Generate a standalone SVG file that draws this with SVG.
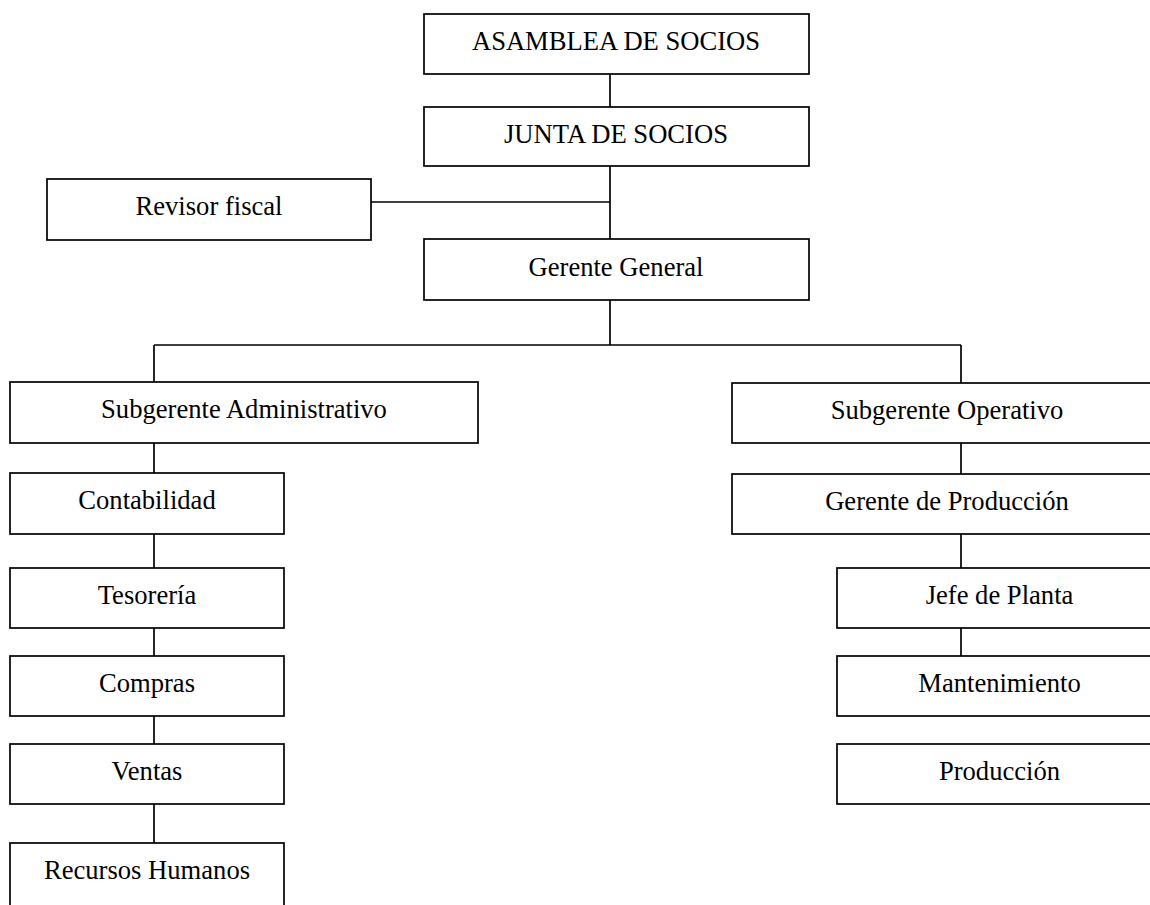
<svg xmlns="http://www.w3.org/2000/svg" width="1150" height="905" viewBox="0 0 1150 905">
<style>
rect.box{fill:#fff;stroke:#000;stroke-width:1.7}
text{font-family:"Liberation Serif","Times New Roman",serif;font-size:26.6px;fill:#000;text-anchor:middle}
#connectors path{fill:none;stroke:#000;stroke-width:1.7}
</style>
<rect width="1150" height="905" fill="#fff"/>
<g id="connectors">
<path d="M610 74V107"/>
<path d="M610 166V239"/>
<path d="M371 202H610"/>
<path d="M610 300V345"/>
<path d="M154 345H961"/>
<path d="M154 345V382"/>
<path d="M961 345V383"/>
<path d="M154 443V473"/>
<path d="M154 534V568"/>
<path d="M154 628V656"/>
<path d="M154 716V744"/>
<path d="M154 804V843"/>
<path d="M961 443V474"/>
<path d="M961 534V568"/>
<path d="M961 628V656"/>
</g>
<g id="asamblea"><rect class="box" x="424" y="14" width="385" height="60"/><text x="616" y="50">ASAMBLEA DE SOCIOS</text></g>
<g id="junta"><rect class="box" x="424" y="107" width="385" height="59"/><text x="616" y="143">JUNTA DE SOCIOS</text></g>
<g id="revisor"><rect class="box" x="47" y="179" width="324" height="61"/><text x="209" y="215">Revisor fiscal</text></g>
<g id="gerente"><rect class="box" x="424" y="239" width="385" height="61"/><text x="616" y="276">Gerente General</text></g>
<g id="sub-admin"><rect class="box" x="10" y="382" width="468" height="61"/><text x="244" y="418">Subgerente Administrativo</text></g>
<g id="sub-oper"><rect class="box" x="732" y="383" width="430" height="60"/><text x="947" y="419">Subgerente Operativo</text></g>
<g id="contabilidad"><rect class="box" x="10" y="473" width="274" height="61"/><text x="147" y="509">Contabilidad</text></g>
<g id="tesoreria"><rect class="box" x="10" y="568" width="274" height="60"/><text x="147" y="604">Tesorería</text></g>
<g id="compras"><rect class="box" x="10" y="656" width="274" height="60"/><text x="147" y="692">Compras</text></g>
<g id="ventas"><rect class="box" x="10" y="744" width="274" height="60"/><text x="147" y="780">Ventas</text></g>
<g id="rrhh"><rect class="box" x="10" y="843" width="274" height="80"/><text x="147" y="879">Recursos Humanos</text></g>
<g id="gerente-prod"><rect class="box" x="732" y="474" width="430" height="60"/><text x="947" y="510">Gerente de Producción</text></g>
<g id="jefe-planta"><rect class="box" x="837" y="568" width="325" height="60"/><text x="999.5" y="604">Jefe de Planta</text></g>
<g id="mantenimiento"><rect class="box" x="837" y="656" width="325" height="60"/><text x="999.5" y="692">Mantenimiento</text></g>
<g id="produccion"><rect class="box" x="837" y="744" width="325" height="60"/><text x="999.5" y="780">Producción</text></g>
</svg>
